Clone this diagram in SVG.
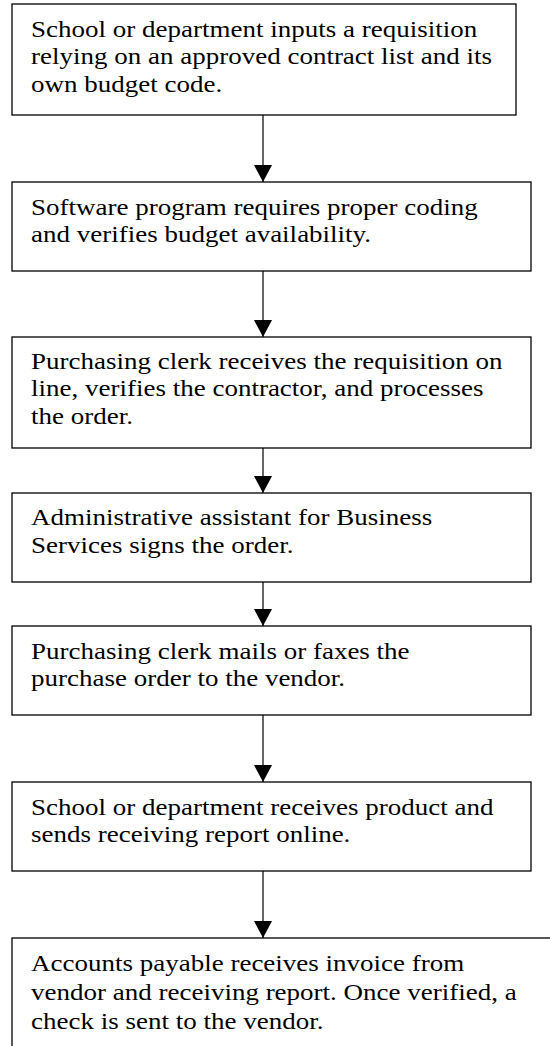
<svg xmlns="http://www.w3.org/2000/svg" width="550" height="1046" viewBox="0 0 550 1046">
  <style>
    .box { fill: #ffffff; stroke: #000000; stroke-width: 1.3; }
    .flow { stroke: #000000; stroke-width: 1.2; fill: none; }
    .lbl text { font-family: "Liberation Serif", "Times New Roman", serif; font-size: 23px; fill: #000000; }
  </style>
  <defs>
    <marker id="arrowhead" markerUnits="userSpaceOnUse" markerWidth="20" markerHeight="18" refX="17" refY="9" orient="auto">
      <path d="M0,0 L17,9 L0,18 Z" fill="#000000"/>
    </marker>
  </defs>
  <rect width="550" height="1046" fill="#ffffff"/>

  <!-- connectors: one vertical arrow between consecutive steps -->
  <g id="connectors">
    <line class="flow" x1="263" y1="115" x2="263" y2="182" marker-end="url(#arrowhead)"/>
    <line class="flow" x1="263" y1="271" x2="263" y2="337" marker-end="url(#arrowhead)"/>
    <line class="flow" x1="263" y1="448" x2="263" y2="493" marker-end="url(#arrowhead)"/>
    <line class="flow" x1="263" y1="582" x2="263" y2="626" marker-end="url(#arrowhead)"/>
    <line class="flow" x1="263" y1="715" x2="263" y2="782" marker-end="url(#arrowhead)"/>
    <line class="flow" x1="263" y1="871" x2="263" y2="938" marker-end="url(#arrowhead)"/>
  </g>

  <!-- step 1 -->
  <g id="step1">
    <rect class="box" x="12" y="4" width="504" height="111"/>
    <g class="lbl" transform="scale(1.174 1)">
      <text x="26.4" y="37">School or department inputs a requisition</text>
      <text x="26.4" y="64.5">relying on an approved contract list and its</text>
      <text x="26.4" y="92">own budget code.</text>
    </g>
  </g>

  <!-- step 2 -->
  <g id="step2">
    <rect class="box" x="12" y="182" width="519" height="89"/>
    <g class="lbl" transform="scale(1.174 1)">
      <text x="26.4" y="215">Software program requires proper coding</text>
      <text x="26.4" y="242.5">and verifies budget availability.</text>
    </g>
  </g>

  <!-- step 3 -->
  <g id="step3">
    <rect class="box" x="12" y="337" width="519" height="111"/>
    <g class="lbl" transform="scale(1.174 1)">
      <text x="26.4" y="369">Purchasing clerk receives the requisition on</text>
      <text x="26.4" y="396.5">line, verifies the contractor, and processes</text>
      <text x="26.4" y="424">the order.</text>
    </g>
  </g>

  <!-- step 4 -->
  <g id="step4">
    <rect class="box" x="12" y="493" width="519" height="89"/>
    <g class="lbl" transform="scale(1.174 1)">
      <text x="26.4" y="525.5">Administrative assistant for Business</text>
      <text x="26.4" y="553">Services signs the order.</text>
    </g>
  </g>

  <!-- step 5 -->
  <g id="step5">
    <rect class="box" x="12" y="626" width="519" height="89"/>
    <g class="lbl" transform="scale(1.174 1)">
      <text x="26.4" y="659">Purchasing clerk mails or faxes the</text>
      <text x="26.4" y="686.5">purchase order to the vendor.</text>
    </g>
  </g>

  <!-- step 6 -->
  <g id="step6">
    <rect class="box" x="12" y="782" width="519" height="89"/>
    <g class="lbl" transform="scale(1.174 1)">
      <text x="26.4" y="815">School or department receives product and</text>
      <text x="26.4" y="842.5">sends receiving report online.</text>
    </g>
  </g>

  <!-- step 7 (runs past the page edge) -->
  <g id="step7">
    <rect class="box" x="12" y="938" width="560" height="130"/>
    <g class="lbl" transform="scale(1.174 1)">
      <text x="26.4" y="971">Accounts payable receives invoice from</text>
      <text x="26.4" y="1000">vendor and receiving report. Once verified, a</text>
      <text x="26.4" y="1029">check is sent to the vendor.</text>
    </g>
  </g>
</svg>
